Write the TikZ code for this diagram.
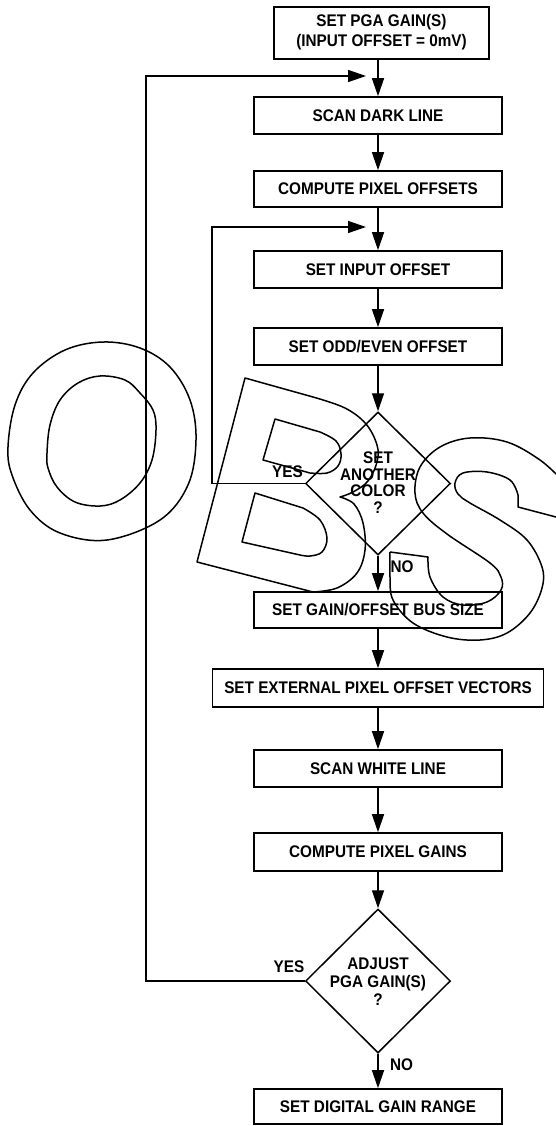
\documentclass[tikz,border=0pt]{standalone}
\usepackage{fontspec}
\setmainfont{Liberation Sans}
\usepackage{graphicx}
\usetikzlibrary{arrows.meta,shapes.geometric}
\newcommand\tx[1]{\scalebox{1}[1.1]{#1}}
\begin{document}
\begin{tikzpicture}[x=1pt,y=-1pt, line width=1.4pt,
 box/.style={draw, rectangle, inner sep=0pt, line width=1.6pt, minimum height=37pt, minimum width=248pt, font=\bfseries\fontsize{15.3}{15}\selectfont},
 dia/.style={draw, diamond, inner sep=0pt, line width=1.5pt, minimum width=145pt, minimum height=143pt},
 arr/.style={-{Triangle[length=18pt,width=12pt]}},
 lab/.style={font=\bfseries\fontsize{15.3}{15}\selectfont, inner sep=0pt},
 wm/.style={line width=1.5pt, line join=round}]
\useasboundingbox (0,0) rectangle (556,1126);

% boxes
\node[box, minimum width=215pt, minimum height=52pt] (pga) at (381.5,33) {\tx{\begin{tabular}{@{}c@{}}SET PGA GAIN(S)\\[3pt](INPUT OFFSET = 0mV)\end{tabular}}};
\node[box] (dark) at (378,115.5) {\tx{SCAN DARK LINE}};
\node[box, minimum height=36pt] (cpo) at (378,189) {\tx{COMPUTE PIXEL OFFSETS}};
\node[box] (sio) at (378,269.5) {\tx{SET INPUT OFFSET}};
\node[box] (oe) at (378,346.5) {\tx{SET ODD/EVEN OFFSET}};
\node[dia] (d1) at (378,483.5) {};
\node[lab] (d1t) at (378,485) {\tx{\begin{tabular}{@{}c@{}}SET\\ANOTHER\\COLOR\\?\end{tabular}}};
\node[box, minimum height=36pt] (bus) at (378,610) {\tx{SET GAIN/OFFSET BUS SIZE}};
\node[box, minimum width=331pt, minimum height=38pt] (ext) at (378,688) {\tx{SET EXTERNAL PIXEL OFFSET VECTORS}};
\node[box] (white) at (378,768.5) {\tx{SCAN WHITE LINE}};
\node[box, minimum height=38pt] (gains) at (378,852) {\tx{COMPUTE PIXEL GAINS}};
\node[dia, minimum height=144pt] (d2) at (378,981) {};
\node[lab] (d2t) at (378,984) {\tx{\begin{tabular}{@{}c@{}}ADJUST\\[1pt]PGA GAIN(S)\\[1pt]?\end{tabular}}};
\node[box, minimum height=35pt] (dig) at (378,1106.5) {\tx{SET DIGITAL GAIN RANGE}};

% labels
\node[lab] (yes1) at (287.5,472) {\tx{YES}};
\node[lab] (no1) at (402,567) {\tx{NO}};
\node[lab] (yes2) at (289,967) {\tx{YES}};
\node[lab] (no2) at (401.5,1065) {\tx{NO}};

% connectors
\draw[arr] (pga.south -| dark.north) -- (dark.north);
\draw[arr] (dark.south) -- (cpo.north);
\draw[arr] (cpo.south) -- (sio.north);
\draw[arr] (sio.south) -- (oe.north);
\draw[arr] (oe.south) -- (d1.north);
\draw[arr] (d1.south) -- (bus.north);
\draw[arr] (bus.south) -- (ext.north);
\draw[arr] (ext.south) -- (white.north);
\draw[arr] (white.south) -- (gains.north);
\draw[arr] (gains.south) -- (d2.north);
\draw[arr] (d2.south) -- (dig.north);

\coordinate (c1) at (146,76);
\coordinate (j1) at (366,76);
\coordinate (c2) at (212,227);
\coordinate (j2) at (366,227);
\draw[arr] (d2.west) -| (c1) -- (j1);
\draw[arr] (d1.west) -| (c2) -- (j2);

% watermark outlines
\begin{scope}
\clip (0,0) rectangle (556,1126);
% O
\draw[wm] plot[smooth cycle, tension=0.6] coordinates {(103,342) (140,348) (170,367) (190,400) (196,440) (188,485) (160,520) (107,540) (60,533) (30,510) (12,475) (8,447) (15,405) (33,373) (65,350)};
\draw[wm] plot[smooth cycle, tension=0.6] coordinates {(100,376) (125,380) (140,393) (153,410) (156,430) (152,460) (140,483) (120,500) (100,506) (75,502) (57,487) (48,468) (47,453) (50,425) (60,400) (78,383)};
% B
\draw[wm] (197,562) -- (245,378) -- (313,397)
  -- plot[smooth, tension=0.6] coordinates {(313,397) (345,408) (366,424) (377,445) (377,462) (368,481) (353,492) (340,497)}
  -- plot[smooth, tension=0.6] coordinates {(340,497) (354,504) (363,523) (365,550) (357,573) (337,588) (313,592)}
  -- cycle;
\draw[wm] (263,460) -- (275,419) -- (320,432)
  -- plot[smooth, tension=0.6] coordinates {(320,432) (336,441) (341,454) (338,466) (327,473) (310,473)}
  -- cycle;
\draw[wm] (242,542) -- (255,493) -- (303,508)
  -- plot[smooth, tension=0.6] coordinates {(303,508) (320,520) (327,538) (322,552) (310,556) (300,555)}
  -- cycle;
% S
\draw[wm] (390,552) -- (428,557)
  -- plot[smooth, tension=0.6] coordinates {(428,557) (430,577) (443,597) (463,605) (487,602) (501,590) (501,577) (490,563) (447,534) (423,513) (415,493) (420,467) (440,447) (470,438) (507,442) (540,460) (562,480)}
  -- (575,520) -- (556,517) -- (518,507) -- (518,495)
  -- plot[smooth, tension=0.6] coordinates {(518,495) (510,480) (487,472) (463,473) (455,483) (458,494) (470,503) (500,520) (527,540) (542,567) (542,588) (530,613) (507,633) (480,640) (447,637) (413,623) (393,600) (390,577) (390,552)};
\end{scope}
\end{tikzpicture}
\end{document}
